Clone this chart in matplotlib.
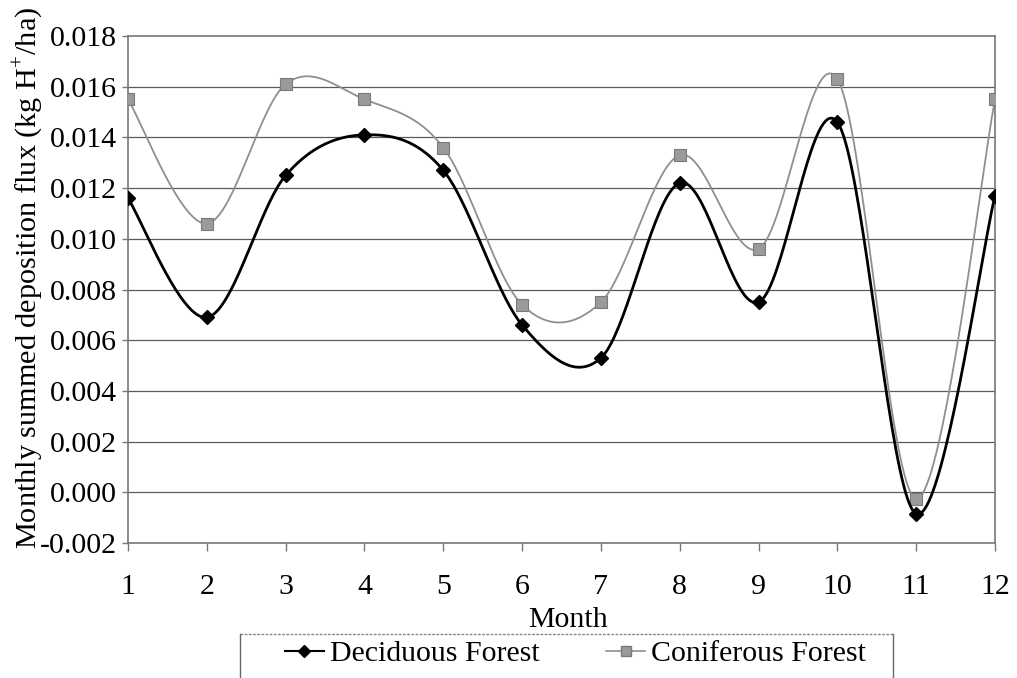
import numpy as np
import matplotlib
matplotlib.use("Agg")
import matplotlib.pyplot as plt
from matplotlib.lines import Line2D

plt.rcParams["font.family"] = ["Liberation Serif", "DejaVu Serif"]
plt.rcParams["axes.unicode_minus"] = False
plt.rcParams["mathtext.fontset"] = "custom"
plt.rcParams["mathtext.rm"] = "Liberation Serif"

months = list(range(1, 13))
deciduous = [0.0116, 0.0069, 0.0125, 0.0141, 0.0127, 0.0066,
             0.0053, 0.0122, 0.0075, 0.0146, -0.00085, 0.0117]
coniferous = [0.0155, 0.0106, 0.0161, 0.0155, 0.0136, 0.0074,
              0.0075, 0.0133, 0.0096, 0.0163, -0.00025, 0.0155]
y_ticks = [-0.002, 0.000, 0.002, 0.004, 0.006, 0.008, 0.010,
           0.012, 0.014, 0.016, 0.018]


def smooth(xs, ys, n=40):
    """Spreadsheet-style smoothed line: cubic Bezier through each pair of
    points, control points at 1/6 of the neighbouring chord."""
    x = np.asarray(xs, float)
    y = np.asarray(ys, float)
    px = np.concatenate([[x[0]], x, [x[-1]]])
    py = np.concatenate([[y[0]], y, [y[-1]]])
    t = np.linspace(0, 1, n)[:, None]
    outx, outy = [], []
    for i in range(len(x) - 1):
        p0 = np.array([px[i + 1], py[i + 1]])
        p3 = np.array([px[i + 2], py[i + 2]])
        c1 = p0 + (p3 - np.array([px[i], py[i]])) / 6.0
        c2 = p3 - (np.array([px[i + 3], py[i + 3]]) - p0) / 6.0
        b = ((1 - t) ** 3) * p0 + 3 * ((1 - t) ** 2) * t * c1 \
            + 3 * (1 - t) * t ** 2 * c2 + t ** 3 * p3
        outx.append(b[:, 0])
        outy.append(b[:, 1])
    return np.concatenate(outx), np.concatenate(outy)


W, H = 1017, 678
fig = plt.figure(figsize=(W / 100, H / 100), dpi=100)
ax = fig.add_axes([128 / W, 1 - 543 / H, (995 - 128) / W, (543 - 36) / H])

for v in y_ticks[1:-1]:
    ax.axhline(v, color="#5a5a5a", lw=0.9, zorder=1)

dec_col = "black"
con_col = "#8f8f8f"

sx, sy = smooth(months, coniferous)
ax.plot(sx, sy, color=con_col, lw=1.3, zorder=2)
ax.plot(months, coniferous, ls="none", marker="s", ms=8,
        mfc="#9a9a9a", mec="#7a7a7a", mew=0.8, zorder=3)

sx, sy = smooth(months, deciduous)
ax.plot(sx, sy, color=dec_col, lw=2.0, zorder=4)
ax.plot(months, deciduous, ls="none", marker="D", ms=7,
        mfc=dec_col, mec=dec_col, zorder=5)

ax.set_xlim(1, 12)
ax.set_ylim(-0.002, 0.018)
ax.set_xticks(months)
ax.set_yticks(y_ticks)
ax.set_yticklabels([f"{v:.3f}" for v in y_ticks])
ax.tick_params(axis="both", labelsize=21.5, colors="black")
ax.tick_params(axis="x", direction="out", length=6, width=1,
               color="#777777", pad=16)
ax.tick_params(axis="y", direction="out", length=4, width=1,
               color="#777777", pad=4)

for s in ax.spines.values():
    s.set_color("#777777")
    s.set_linestyle((0, (1, 1)))
    s.set_linewidth(1.2)

fig.text(568 / W, 1 - 620 / H, "Month", fontsize=21.5,
         ha="center", va="center")
fig.text(28 / W, 1 - 278 / H,
         "Monthly summed deposition flux (kg H$^{+}$/ha)",
         fontsize=21.8, rotation=90, ha="center", va="center")

# legend box (open at the bottom edge of the figure)
fig.add_artist(Line2D([240 / W, 893 / W], [1 - 634 / H, 1 - 634 / H],
                      transform=fig.transFigure, color="#888888",
                      lw=1.0, ls=(0, (2, 1))))
fig.add_artist(Line2D([240 / W, 240 / W], [1 - 634 / H, 0],
                      transform=fig.transFigure, color="#666666", lw=1.0))
fig.add_artist(Line2D([893 / W, 893 / W], [1 - 634 / H, 0],
                      transform=fig.transFigure, color="#666666", lw=1.0))

handles = [
    Line2D([], [], color=dec_col, lw=1.5, marker="D", ms=6, mfc=dec_col,
           mec=dec_col),
    Line2D([], [], color=con_col, lw=1.2, marker="s", ms=6.5,
           mfc="#9a9a9a", mec="#7a7a7a"),
]
fig.legend(handles, ["Deciduous Forest", "Coniferous Forest"],
           loc="center left", bbox_to_anchor=(285 / W, 1 - 654 / H),
           ncol=2, frameon=False, fontsize=21.5, handlelength=1.3,
           handletextpad=0.2, columnspacing=2.23, borderpad=0,
           borderaxespad=0)

fig.savefig("out.png", dpi=100)
